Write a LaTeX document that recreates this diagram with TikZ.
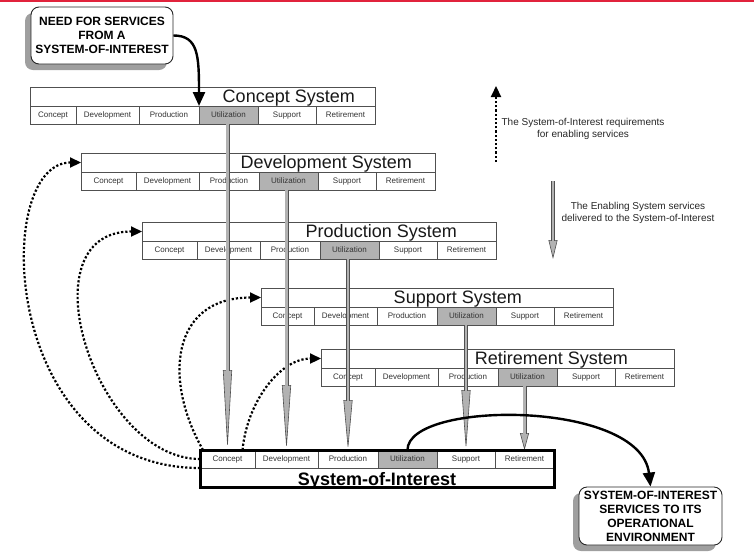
\documentclass[tikz,border=0pt]{standalone}
\usepackage{fontspec}
\setmainfont{Liberation Sans}
\usetikzlibrary{arrows.meta,positioning,calc,shadows}

\definecolor{topred}{RGB}{225,35,60}
\definecolor{utilgray}{RGB}{178,178,178}
\definecolor{framegray}{RGB}{80,80,80}

% one row of life-cycle stages
\newcommand{\stagerow}[4]{%
  \node[cell, minimum width=#4pt, anchor=north west] (#1-1) at (#2,#3) {Concept};
  \node[cell, minimum width=63pt, right=0pt of #1-1] (#1-2) {Development};
  \node[cell, minimum width=60pt, right=0pt of #1-2] (#1-3) {Production};
  \node[cell, fill=utilgray, minimum width=59pt, right=0pt of #1-3] (#1-4) {Utilization};
  \node[cell, minimum width=58pt, right=0pt of #1-4] (#1-5) {Support};
  \node[cell, minimum width=59pt, right=0pt of #1-5] (#1-6) {Retirement};
}

% enabling system: title row above its stage row
\newcommand{\enablingsys}[6]{%
  \stagerow{#1}{#2}{#3}{#4}
  \draw[frame, fill=white] ($(#1-1.north west)+(0,-19)$) rectangle (#1-6.north east);
  \coordinate (#1-in) at ($(#1-1.north west)+(0,-9.5)$);
  \node[systitle, anchor=base east] (#1-t) at ($(#1-6.north east)+(-#6,-4)$) {#5};
}

\begin{document}
\begin{tikzpicture}[
    x=1pt, y=-1pt,
    cell/.style={draw=framegray, line width=0.8pt, fill=white, minimum height=18pt, inner sep=0pt, outer sep=0pt, text height=6pt, text depth=1.6pt, font=\fontsize{8}{9.6}\selectfont, text=black!80},
    frame/.style={draw=framegray, line width=0.8pt},
    systitle/.style={font=\fontsize{18}{20}\selectfont, inner sep=0pt, text=black!90},
    soititle/.style={font=\bfseries\fontsize{18}{20}\selectfont, inner sep=0pt},
    callout/.style={draw=black!85, line width=0.9pt, rounded corners=8pt, fill=white, align=center, inner xsep=2pt, inner ysep=1pt, font=\bfseries\fontsize{12}{14}\selectfont, drop shadow={shadow xshift=-6pt, shadow yshift=-6pt, fill=gray!75, opacity=1}},
    legend/.style={align=center, font=\fontsize{10}{12}\selectfont, text=black!85},
    svc/.style={draw=framegray, line width=0.6pt, -{Triangle[length=#1pt, width=9pt, fill=utilgray]},
        postaction={draw=framegray, line width=4pt, shorten >=#1pt-1pt, -},
        postaction={draw=utilgray, line width=2.2pt, shorten >=#1pt-1.5pt, -}},
    req/.style={line width=2.2pt, dash pattern=on 2.2pt off 2pt, -{Triangle[length=11pt, width=10pt]}},
    flow/.style={line width=2.4pt, -{Triangle[length=14pt, width=12pt]}}
]
\useasboundingbox (0,0) rectangle (754,555);
\fill[topred] (0,0) rectangle (754,1.5);

% enabling systems
\enablingsys{cs}{30}{106}{46}{Concept System}{20}
\enablingsys{ds}{81}{172}{55}{Development System}{23}
\enablingsys{ps}{142}{241}{55}{Production System}{39}
\enablingsys{ss}{261}{307}{53}{Support System}{91}
\enablingsys{rs}{321}{368}{54}{Retirement System}{46}

% system of interest
\stagerow{soi}{200}{450}{55}
\draw[frame] (soi-1.south west) rectangle ($(soi-6.south east)+(0,19)$);
\node[soititle, anchor=base, yshift=-17pt] (soi-t) at ($(soi-1.south west)!0.5!(soi-6.south east)$) {System-of-Interest};

% callouts
\node[callout, minimum width=142pt, minimum height=57pt] (need) at (102,35.5) {NEED FOR SERVICES\\FROM A\\SYSTEM-OF-INTEREST};
\node[callout, minimum width=143pt, minimum height=58pt] (env) at (650.5,516) {SYSTEM-OF-INTEREST\\SERVICES TO ITS\\OPERATIONAL\\ENVIRONMENT};

% requirements for enabling services
\draw[req] (soi-1.south west) .. controls +(-200,0) and +(-90,0) .. (ds-in);
\draw[req] (soi-1.west) .. controls +(-105,0) and +(-119,0) .. (ps-in);
\draw[req] ([xshift=3pt]soi-1.north west) .. controls +(-40,-70) and +(-90,0) .. (ss-in);
\draw[req] ([xshift=15pt]soi-1.north) .. controls +(5,-50) and +(-40,0) .. (rs-in);

% services delivered
\draw[svc=80] (cs-4.south -| soi-1.north) -- (soi-1.north);
\draw[svc=65] (ds-4.south -| soi-2.north) -- (soi-2.north);
\draw[svc=50] (ps-4.south -| soi-3.north) -- (soi-3.north);
\draw[svc=60] (ss-4.south -| soi-5.north) -- (soi-5.north);
\draw[svc=17] (rs-4.south -| soi-6.north) -- (soi-6.north);

\draw[line width=3pt] (soi-1.north west) rectangle ($(soi-6.south east)+(0,19)$);

\draw[flow] (need.east) .. controls +(25,0) and +(0,-50) .. (cs-4.north west);
\draw[flow] (soi-4.north) .. controls +(0,-50) and +(-10,-87) .. (env.north);

% legend
\coordinate (req-a) at (496,162);
\coordinate (req-b) at (496,86);
\draw[req] (req-a) -- (req-b);
\node[legend] (req-txt) at (583,129) {The System-of-Interest requirements\\for enabling services};
\coordinate (svc-a) at (553,181);
\coordinate (svc-b) at (553,259);
\draw[svc=19] (svc-a) -- (svc-b);
\node[legend] (svc-txt) at (638,213) {The Enabling System services\\delivered to the System-of-Interest};
\end{tikzpicture}
\end{document}
